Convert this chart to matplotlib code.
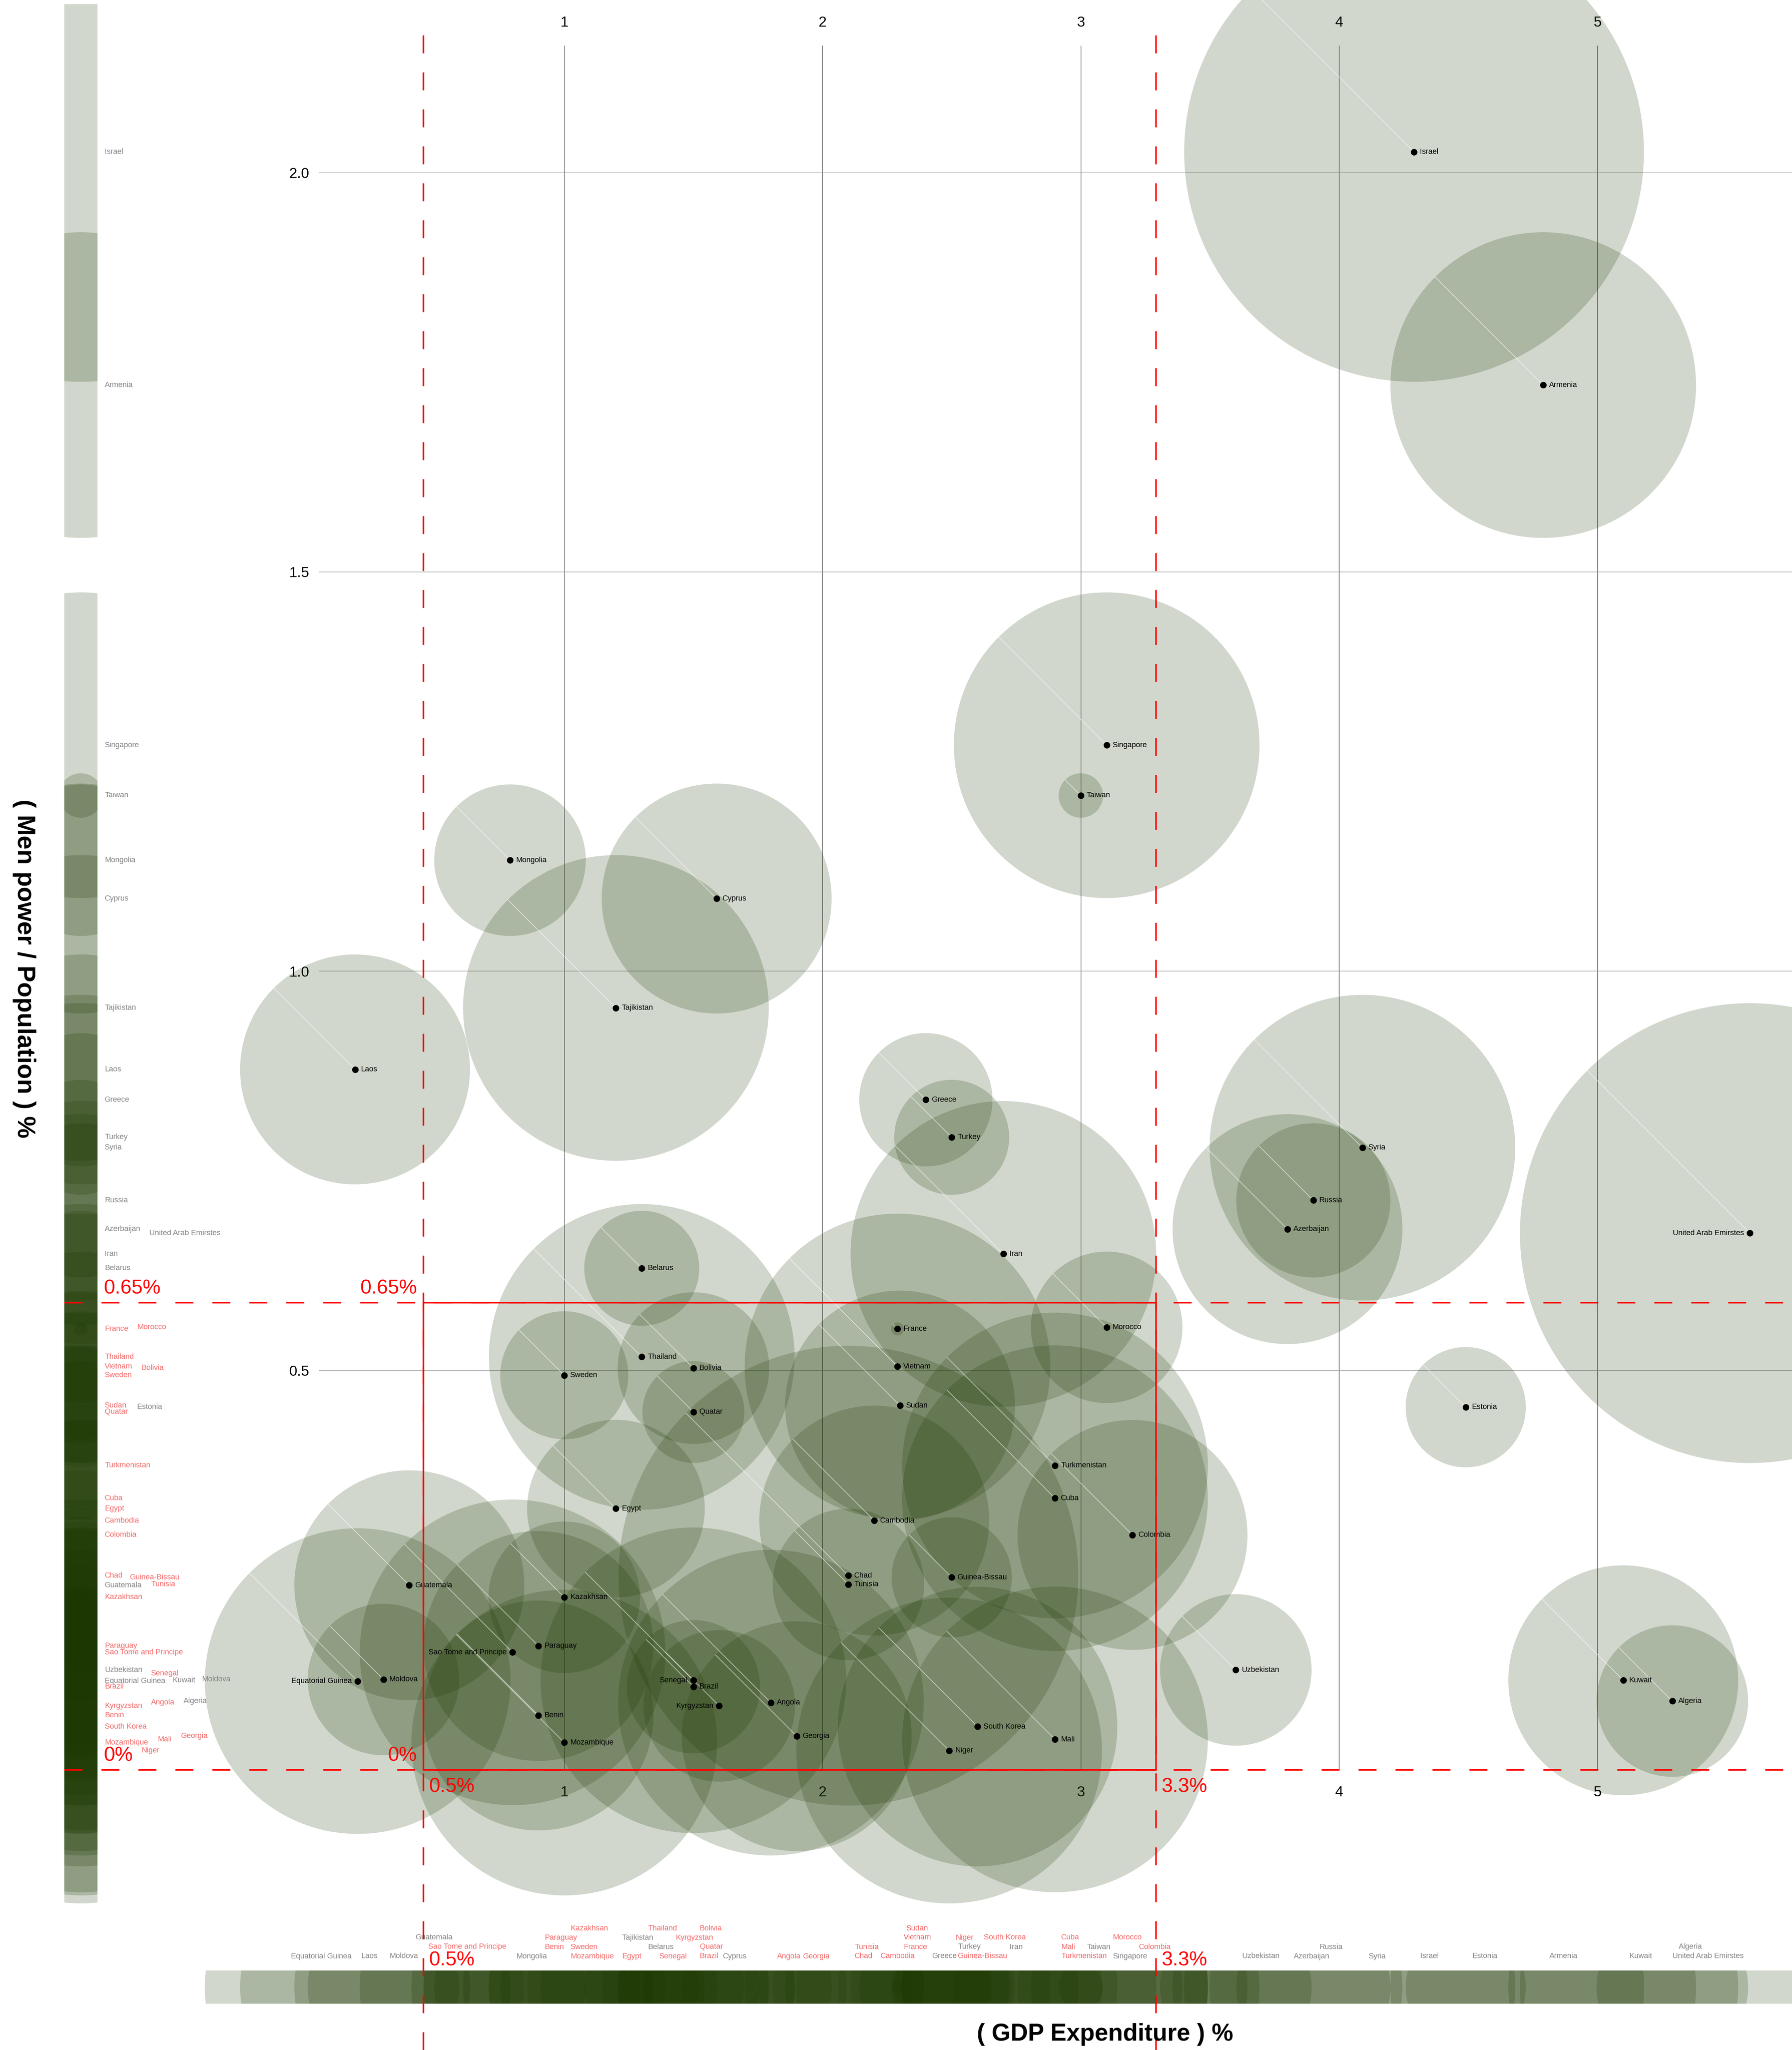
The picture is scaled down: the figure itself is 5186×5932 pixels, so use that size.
import numpy as np
import matplotlib
matplotlib.use("Agg")
import matplotlib.pyplot as plt
from matplotlib.patches import Rectangle

# data: GDP expenditure %, men power / population %, bubble radius
countries = ["Israel", "Armenia", "Singapore", "Taiwan", "Mongolia", "Cyprus", "Tajikistan",
             "Laos", "Greece", "Turkey", "Iran", "Syria", "Russia", "Azerbaijan",
             "United Arab Emirstes", "Belarus", "France", "Morocco", "Thailand", "Vietnam",
             "Bolivia", "Sweden", "Sudan", "Estonia", "Quatar", "Turkmenistan", "Cuba",
             "Egypt", "Cambodia", "Colombia", "Chad", "Guinea-Bissau", "Tunisia", "Guatemala",
             "Kazakhsan", "Paraguay", "Sao Tome and Principe", "Uzbekistan", "Senegal",
             "Moldova", "Equatorial Guinea", "Kuwait", "Brazil", "Angola", "Algeria",
             "Kyrgyzstan", "Benin", "South Korea", "Georgia", "Mali", "Mozambique", "Niger"]
gdp = [4.29, 4.79, 3.10, 3.00, 0.79, 1.59, 1.20,
       0.19, 2.40, 2.50, 2.70, 4.09, 3.90, 3.80,
       5.59, 1.30, 2.29, 3.10, 1.30, 2.29,
       1.50, 1.00, 2.30, 4.49, 1.50, 2.90, 2.90,
       1.20, 2.20, 3.20, 2.10, 2.50, 2.10, 0.40,
       1.00, 0.90, 0.80, 3.60, 1.50,
       0.30, 0.20, 5.10, 1.50, 1.80, 5.29,
       1.60, 0.90, 2.60, 1.90, 2.90, 1.00, 2.49]
manpower = [2.026, 1.734, 1.283, 1.220, 1.139, 1.091, 0.954,
            0.877, 0.839, 0.792, 0.646, 0.779, 0.713, 0.677,
            0.672, 0.628, 0.552, 0.554, 0.517, 0.505,
            0.503, 0.494, 0.456, 0.454, 0.448, 0.381, 0.340,
            0.327, 0.312, 0.294, 0.243, 0.241, 0.232, 0.231,
            0.216, 0.155, 0.147, 0.125, 0.112,
            0.113, 0.111, 0.112, 0.104, 0.084, 0.086,
            0.080, 0.068, 0.054, 0.042, 0.038, 0.034, 0.024]
radius = [176, 117, 117, 17, 58, 88, 117,
          88, 51, 44, 117, 117, 59, 88,
          176, 44, 5, 58, 117, 117,
          58, 49, 88, 46, 39, 117, 117,
          68, 88, 88, 176, 46, 58, 88,
          58, 88, 117, 58, 117,
          58, 117, 88, 51, 117, 58,
          58, 88, 107, 88, 117, 117, 117]

gdp_cut = [0.454, 3.29]
gdp_cut_labels = ["0.5%", "3.3%"]
men_cut = [0.0, 0.585]
men_cut_labels = ["0%", "0.65%"]

xticks = [1, 2, 3, 4, 5]
yticks = [0.5, 1.0, 1.5, 2.0]
ytick_labels = ["0.5", "1.0", "1.5", "2.0"]

# label layout
left_side = {"Equatorial Guinea", "Sao Tome and Principe", "Senegal", "Kyrgyzstan",
             "United Arab Emirstes"}
list_col = {"Morocco": 397, "Bolivia": 409, "Estonia": 396, "Guinea-Bissau": 376,
            "Tunisia": 437, "Senegal": 437, "Angola": 437, "Kuwait": 499, "Moldova": 584,
            "Algeria": 531, "Mali": 456, "Georgia": 524, "Niger": 409,
            "United Arab Emirstes": 432}
list_dy = {"Senegal": -20}
bottom_row = {"Sao Tome and Principe": 1, "Benin": 1, "Sweden": 1, "Belarus": 1, "Quatar": 1,
              "Tunisia": 1, "France": 1, "Turkey": 1, "Iran": 1, "Mali": 1, "Taiwan": 1,
              "Colombia": 1, "Russia": 1, "Algeria": 1,
              "Guatemala": 2, "Paraguay": 2, "Tajikistan": 2, "Kyrgyzstan": 2, "Vietnam": 2,
              "Niger": 2, "South Korea": 2, "Cuba": 2, "Morocco": 2,
              "Kazakhsan": 3, "Thailand": 3, "Bolivia": 3, "Sudan": 3}
row_y = [5661, 5634, 5607, 5580]

W, H, DPI = 5186, 5932, 72
AX_L, AX_T, AX_B = 923, 132, 5121
UNIT_X, UNIT_Y = 747.5, 2310.7
R_SCALE = 3.78

BUB = (28 / 255, 55 / 255, 0)
BUB_ALPHA = 0.2
RED = "#ff0000"
LABEL_RED = "#f46a6a"
LABEL_GREY = "#858585"

plt.rcParams["font.family"] = ["Liberation Sans", "DejaVu Sans"]

xlim = (0.0502, 0.0502 + (W - AX_L) / UNIT_X)
ylim = (0.0, (AX_B - AX_T) / UNIT_Y)


def px_x(v):
    return AX_L + (v - xlim[0]) * UNIT_X


def px_y(v):
    return AX_B - (v - ylim[0]) * UNIT_Y


def in_box(x, y):
    return gdp_cut[0] <= x <= gdp_cut[1] and men_cut[0] <= y <= men_cut[1]


n = len(countries)
sizes = [(2 * r * R_SCALE) ** 2 for r in radius]

fig = plt.figure(figsize=(W / DPI, H / DPI), dpi=DPI)
fig.patch.set_facecolor("white")

# side strips: the same bubbles squeezed onto each axis
STRIP_TOP = 12
sl = fig.add_axes([186 / W, 0, 96 / W, 1 - STRIP_TOP / H])
sl.set_xlim(0, 1)
sl.set_ylim(ylim[0] - (H - AX_B) / UNIT_Y, ylim[1] + (AX_T - STRIP_TOP) / UNIT_Y)
sl.scatter([0.5] * n, manpower, s=sizes, color=BUB, alpha=BUB_ALPHA, linewidths=0)
sl.axis("off")

sb = fig.add_axes([0, 1 - 5798 / H, 1, 96 / H])
sb.set_xlim(xlim[0] - AX_L / UNIT_X, xlim[1])
sb.set_ylim(0, 1)
sb.scatter(gdp, [0.5] * n, s=sizes, color=BUB, alpha=BUB_ALPHA, linewidths=0)
sb.axis("off")

ax = fig.add_axes([AX_L / W, 1 - AX_B / H, 1 - AX_L / W, (AX_B - AX_T) / H], zorder=3)
ax.set_facecolor("none")
ax.set_xlim(*xlim)
ax.set_ylim(*ylim)
for s in ax.spines.values():
    s.set_visible(False)

ax.set_xticks(xticks)
ax.set_xticklabels([str(t) for t in xticks])
ax.set_yticks(yticks)
ax.set_yticklabels(ytick_labels)
ax.tick_params(axis="x", top=True, labeltop=True, bottom=True, labelbottom=True,
               length=0, labelsize=42, pad=46)
ax.tick_params(axis="y", length=0, labelsize=42, pad=28)
ax.set_axisbelow(True)
ax.grid(axis="x", color="#3a3a3a", lw=1.3)
ax.grid(axis="y", color="#9a9a9a", lw=1.6)

# bubbles
ax.scatter(gdp, manpower, s=sizes, color=BUB, alpha=BUB_ALPHA, linewidths=0,
           clip_on=False, zorder=2)
for x, y, r in zip(gdp, manpower, radius):
    d = r * R_SCALE / np.sqrt(2)
    ax.annotate("", xy=(x, y), xytext=(-d, d), textcoords="offset points",
                arrowprops=dict(arrowstyle="-", color="white", lw=2, alpha=0.6,
                                shrinkA=0, shrinkB=0),
                annotation_clip=False, zorder=3)
ax.scatter(gdp, manpower, s=19 ** 2, color="black", linewidths=0, clip_on=False, zorder=5)

for name, x, y in zip(countries, gdp, manpower):
    left = name in left_side
    ax.annotate(name, xy=(x, y), xytext=(-17 if left else 17, 0), textcoords="offset points",
                ha="right" if left else "left", va="center", fontsize=22, color="black",
                annotation_clip=False, zorder=6)

    col = LABEL_RED if in_box(x, y) else LABEL_GREY
    # list along the left strip
    ax.annotate(name, xy=(list_col.get(name, 303) / W, y),
                xycoords=("figure fraction", "data"),
                xytext=(0, -list_dy.get(name, 0)), textcoords="offset points",
                ha="left", va="center", fontsize=22, color=col, annotation_clip=False)
    # list above the bottom strip
    ry = row_y[bottom_row.get(name, 0)]
    ax.annotate(name, xy=(x, 1 - ry / H), xycoords=("data", "figure fraction"),
                xytext=(-18 if left else 18, 0), textcoords="offset points",
                ha="right" if left else "left", va="center", fontsize=22, color=col,
                annotation_clip=False)

# threshold lines and box
dash = (0, (52 / 4.5, 55 / 4.5))
for gx in gdp_cut:
    ax.axvline(gx, ymin=-(H - AX_B) / (AX_B - AX_T), ymax=(AX_B - 50) / (AX_B - AX_T),
               color=RED, lw=4.5, ls=dash, clip_on=False, zorder=7)
for my in men_cut:
    ax.axhline(my, xmin=-(AX_L - 186) / (W - AX_L), xmax=1,
               color=RED, lw=4.5, ls=dash, clip_on=False, zorder=7)
ax.add_patch(Rectangle((gdp_cut[0], men_cut[0]), gdp_cut[1] - gdp_cut[0],
                       men_cut[1] - men_cut[0], fill=False, ec=RED, lw=4.5,
                       clip_on=False, zorder=7))

for my, lab in zip(men_cut, men_cut_labels):
    Y = px_y(my) - 14
    fig.text(301 / W, 1 - Y / H, lab, ha="left", va="bottom", fontsize=58, color=RED)
    fig.text((px_x(gdp_cut[0]) - 18) / W, 1 - Y / H, lab, ha="right", va="bottom",
             fontsize=58, color=RED)
for gx, lab in zip(gdp_cut, gdp_cut_labels):
    X = px_x(gx) + 17
    fig.text(X / W, 1 - (px_y(0) + 22) / H, lab, ha="left", va="top", fontsize=58, color=RED)
    fig.text(X / W, 1 - 5645 / H, lab, ha="left", va="top", fontsize=58, color=RED)

fig.text(70 / W, 1 - 2803 / H, "( Men power / Population ) %", rotation=270,
         ha="center", va="center", fontsize=72, fontweight="bold")
fig.text(3198 / W, 1 - 5887 / H, "( GDP Expenditure ) %", ha="center", va="center",
         fontsize=70, fontweight="bold")

fig.savefig("out.png", dpi=DPI, facecolor="white")
